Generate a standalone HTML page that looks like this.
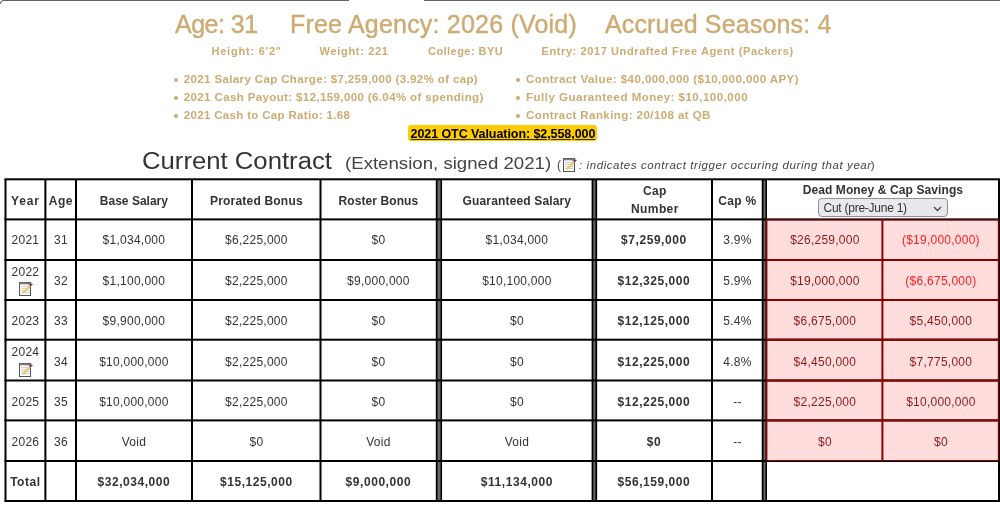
<!DOCTYPE html>
<html><head><meta charset="utf-8"><title>Contract</title>
<style>
html,body{margin:0;padding:0;background:#fff}
body{width:1000px;height:510px;overflow:hidden;position:relative;font-family:"Liberation Sans", Arial, sans-serif}
.t{position:absolute;white-space:nowrap;line-height:1}
.l{position:absolute}
.c{position:absolute;display:flex;align-items:center;justify-content:center;text-align:center;white-space:nowrap;line-height:1.2}
.sel{position:absolute;left:818px;top:198px;width:130px;height:19px;box-sizing:border-box;border:1px solid #8f8f9d;border-radius:4px;background:#e9e9ed;font-size:12px;color:#333;line-height:18px;padding-left:4.5px;letter-spacing:-0.25px;font-family:"Liberation Sans", Arial, sans-serif}
</style></head><body>
<div class="l" style="left:3px;top:0px;width:346px;height:1px;background:#666"></div>
<div class="l" style="left:424px;top:0px;width:576px;height:1px;background:#666"></div>
<div class="l" style="left:0;top:0;width:8px;height:8px;border-top:1px solid #666;border-left:1px solid #666;border-top-left-radius:4px;box-sizing:border-box;clip-path:inset(0 0 4px 0)"></div>
<div class="t" style="left:175px;top:12px;font-size:25px;font-weight:400;color:#ceab72;letter-spacing:-0.5px;-webkit-text-stroke:0.4px #ceab72">Age: 31</div>
<div class="t" style="left:290px;top:12px;font-size:25px;font-weight:400;color:#ceab72;letter-spacing:0.2px;-webkit-text-stroke:0.4px #ceab72">Free Agency: 2026 (Void)</div>
<div class="t" style="left:605px;top:12px;font-size:25px;font-weight:400;color:#ceab72;letter-spacing:0.15px;-webkit-text-stroke:0.4px #ceab72">Accrued Seasons: 4</div>
<div class="t" style="left:211.5px;top:46px;font-size:11px;font-weight:700;color:#ceab72;letter-spacing:0.78px">Height: 6'2"</div>
<div class="t" style="left:319.6px;top:46px;font-size:11px;font-weight:700;color:#ceab72;letter-spacing:0.68px">Weight: 221</div>
<div class="t" style="left:428px;top:46px;font-size:11px;font-weight:700;color:#ceab72;letter-spacing:0.45px">College: BYU</div>
<div class="t" style="left:541.5px;top:46px;font-size:11px;font-weight:700;color:#ceab72;letter-spacing:0.6px">Entry: 2017 Undrafted Free Agent (Packers)</div>
<div class="l" style="left:173.5px;top:78px;width:4px;height:4px;border-radius:50%;background:#ceab72"></div>
<div class="t" style="left:183.8px;top:74px;font-size:11.5px;font-weight:700;color:#ceab72;letter-spacing:0.37px">2021 Salary Cap Charge: $7,259,000 (3.92% of cap)</div>
<div class="l" style="left:173.5px;top:96px;width:4px;height:4px;border-radius:50%;background:#ceab72"></div>
<div class="t" style="left:183.8px;top:92px;font-size:11.5px;font-weight:700;color:#ceab72;letter-spacing:0.38px">2021 Cash Payout: $12,159,000 (6.04% of spending)</div>
<div class="l" style="left:173.5px;top:114px;width:4px;height:4px;border-radius:50%;background:#ceab72"></div>
<div class="t" style="left:183.8px;top:110px;font-size:11.5px;font-weight:700;color:#ceab72;letter-spacing:0.33px">2021 Cash to Cap Ratio: 1.68</div>
<div class="l" style="left:515.5px;top:78px;width:4px;height:4px;border-radius:50%;background:#ceab72"></div>
<div class="t" style="left:526px;top:74px;font-size:11.5px;font-weight:700;color:#ceab72;letter-spacing:0.45px">Contract Value: $40,000,000 ($10,000,000 APY)</div>
<div class="l" style="left:515.5px;top:96px;width:4px;height:4px;border-radius:50%;background:#ceab72"></div>
<div class="t" style="left:526px;top:92px;font-size:11.5px;font-weight:700;color:#ceab72;letter-spacing:0.5px">Fully Guaranteed Money: $10,100,000</div>
<div class="l" style="left:515.5px;top:114px;width:4px;height:4px;border-radius:50%;background:#ceab72"></div>
<div class="t" style="left:526px;top:110px;font-size:11.5px;font-weight:700;color:#ceab72;letter-spacing:0.43px">Contract Ranking: 20/108 at QB</div>
<div class="l" style="left:408px;top:125px;width:189px;height:16px;background:#ffcc00;border-radius:3px"></div>
<div class="t" style="left:410.5px;top:127.5px;font-size:12.5px;font-weight:700;color:#000;letter-spacing:-0.07px"><u style="text-decoration-color:#3a3000">2021 OTC Valuation: $2,558,000</u></div>
<div class="t" style="left:142px;top:150px;font-size:23px;font-weight:400;color:#333;transform:scaleX(1.117);transform-origin:0 0">Current Contract</div>
<div class="t" style="left:345.2px;top:155px;font-size:17px;font-weight:400;color:#444;transform:scaleX(1.096);transform-origin:0 0">(Extension, signed 2021)</div>
<div class="t" style="left:557px;top:159px;font-size:12px;font-weight:400;color:#444;">(</div>
<div class="l" style="left:563px;top:158px"><svg width="14" height="14" viewBox="0 0 14 14" style="display:block"><rect x="0.5" y="0.5" width="11" height="13" fill="#fbfbfb" stroke="#555" stroke-width="1"/><path d="M0.5 1.3H9.4L11.5 3.4" fill="none" stroke="#7a7a7a" stroke-width="1.8"/><path d="M2 4.5h8.5M2 6.5h8.5M2 8.5h8.5M2 10.5h8.5" stroke="#d4d4d4" stroke-width="1.2"/><path d="M3.8 11.2 L11.3 3.7" stroke="#f3c448" stroke-width="1.7"/><path d="M11 4 L13.3 1.7" stroke="#6a3a78" stroke-width="1.6"/></svg></div>
<div class="t" style="left:579px;top:159.5px;font-size:11.5px;font-weight:400;color:#444;"><i style="letter-spacing:0.58px">: indicates contract trigger occuring during that year</i><span style="margin-left:-1px">)</span></div>
<svg class="l" style="left:0;top:0" width="1000" height="510" viewBox="0 0 1000 510"><rect x="766" y="219.4" width="233" height="241.6" fill="#ffdddd"/><rect x="435" y="179.2" width="1" height="322.3" fill="#ccc"/><rect x="436" y="179.2" width="1" height="322.3" fill="#000"/><rect x="437" y="179.2" width="1" height="322.3" fill="#333"/><rect x="438" y="179.2" width="1" height="322.3" fill="#666"/><rect x="439" y="179.2" width="1" height="322.3" fill="#666"/><rect x="440" y="179.2" width="1" height="322.3" fill="#333"/><rect x="441" y="179.2" width="1" height="322.3" fill="#000"/><rect x="442" y="179.2" width="1" height="322.3" fill="#eee"/><rect x="591" y="179.2" width="1" height="322.3" fill="#999"/><rect x="592" y="179.2" width="1" height="322.3" fill="#000"/><rect x="593" y="179.2" width="1" height="322.3" fill="#444"/><rect x="594" y="179.2" width="1" height="322.3" fill="#666"/><rect x="595" y="179.2" width="1" height="322.3" fill="#2a2a2a"/><rect x="596" y="179.2" width="1" height="322.3" fill="#000"/><rect x="597" y="179.2" width="1" height="322.3" fill="#ddd"/><rect x="761" y="179.2" width="1" height="322.3" fill="#bbb"/><rect x="762" y="179.2" width="1" height="322.3" fill="#000"/><rect x="763" y="179.2" width="1" height="322.3" fill="#333"/><rect x="764" y="179.2" width="1" height="322.3" fill="#666"/><rect x="765" y="179.2" width="1" height="322.3" fill="#333"/><rect x="766" y="179.2" width="1" height="322.3" fill="#000"/><rect x="4.5" y="179.2" width="2.0" height="322.3" fill="#000"/><rect x="44.4" y="179.2" width="2.0" height="322.3" fill="#000"/><rect x="75.0" y="179.2" width="2.0" height="322.3" fill="#000"/><rect x="191.0" y="179.2" width="2.0" height="322.3" fill="#000"/><rect x="319.5" y="179.2" width="2.0" height="322.3" fill="#000"/><rect x="711.0" y="179.2" width="2.0" height="322.3" fill="#000"/><rect x="998" y="179.2" width="2" height="322.3" fill="#000"/><rect x="4.5" y="178.3" width="995.5" height="2.0" fill="#000"/><rect x="4.5" y="218.4" width="995.5" height="2.0" fill="#000"/><rect x="4.5" y="259.0" width="995.5" height="2.0" fill="#000"/><rect x="4.5" y="299.0" width="995.5" height="2.0" fill="#000"/><rect x="4.5" y="338.7" width="995.5" height="2.0" fill="#000"/><rect x="4.5" y="379.5" width="995.5" height="2.0" fill="#000"/><rect x="4.5" y="419.4" width="995.5" height="2.0" fill="#000"/><rect x="4.5" y="460.0" width="995.5" height="2.0" fill="#000"/><rect x="4.5" y="500.0" width="995.5" height="2.0" fill="#000"/><rect x="766" y="259.0" width="233" height="2.0" fill="#8b0000"/><rect x="766" y="299.0" width="233" height="2.0" fill="#8b0000"/><rect x="766" y="338.7" width="233" height="2.0" fill="#8b0000"/><rect x="766" y="379.5" width="233" height="2.0" fill="#8b0000"/><rect x="766" y="419.4" width="233" height="2.0" fill="#8b0000"/><rect x="766" y="219.3" width="233" height="1.1" fill="#8b0000"/><rect x="766" y="460.0" width="233" height="1.0" fill="#8b0000"/><rect x="766" y="219.3" width="1.4" height="241.7" fill="#8b0000"/><rect x="881.4" y="219.0" width="2.0" height="242.0" fill="#8b0000"/><rect x="997.8" y="219.0" width="1.2" height="242.0" fill="#8b0000"/></svg>
<div class="c" style="left:5.8px;top:181.5px;width:39.2px;height:39.0px;font-size:12px;font-weight:700;color:#333;letter-spacing:0.9px">Year</div>
<div class="c" style="left:45.8px;top:181.5px;width:30.200000000000003px;height:39.0px;font-size:12px;font-weight:700;color:#333;letter-spacing:0.6px">Age</div>
<div class="c" style="left:76.8px;top:181.5px;width:114.2px;height:39.0px;font-size:12px;font-weight:700;color:#333;">Base Salary</div>
<div class="c" style="left:192.8px;top:181.5px;width:127.19999999999999px;height:39.0px;font-size:12px;font-weight:700;color:#333;letter-spacing:0.2px">Prorated Bonus</div>
<div class="c" style="left:320.8px;top:181.5px;width:115.19999999999999px;height:39.0px;font-size:12px;font-weight:700;color:#333;letter-spacing:0.1px">Roster Bonus</div>
<div class="c" style="left:441.8px;top:181.5px;width:150.2px;height:39.0px;font-size:12px;font-weight:700;color:#333;letter-spacing:0.15px">Guaranteed Salary</div>
<div class="c" style="left:712.8px;top:181.5px;width:49.200000000000045px;height:39.0px;font-size:12px;font-weight:700;color:#333;letter-spacing:0.3px">Cap %</div>
<div class="c" style="left:597.8px;top:181px;width:114.20000000000005px;height:39px;font-size:12px;font-weight:700;color:#333;line-height:17.6px;letter-spacing:0.4px">Cap<br>Number</div>
<div class="c" style="left:767.8px;top:180px;width:230.20000000000005px;height:17px;font-size:12px;font-weight:700;color:#333;align-items:flex-end;letter-spacing:0.1px">Dead Money &amp; Cap Savings</div>
<div class="sel">Cut (pre-June 1)<svg width="9" height="6" viewBox="0 0 9 6" style="position:absolute;right:5px;top:7px"><path d="M1 1 L4.5 4.5 L8 1" fill="none" stroke="#444" stroke-width="1.3"/></svg></div>
<div class="c" style="left:5.8px;top:220.1px;width:39.2px;height:40.599999999999994px;font-size:12px;font-weight:400;color:#333;letter-spacing:0.25px">2021</div>
<div class="c" style="left:45.8px;top:220.1px;width:30.200000000000003px;height:40.599999999999994px;font-size:12px;font-weight:400;color:#333;letter-spacing:0.25px">31</div>
<div class="c" style="left:76.8px;top:220.1px;width:114.2px;height:40.599999999999994px;font-size:12px;font-weight:400;color:#333;letter-spacing:0.25px">$1,034,000</div>
<div class="c" style="left:192.8px;top:220.1px;width:127.19999999999999px;height:40.599999999999994px;font-size:12px;font-weight:400;color:#333;letter-spacing:0.25px">$6,225,000</div>
<div class="c" style="left:320.8px;top:220.1px;width:115.19999999999999px;height:40.599999999999994px;font-size:12px;font-weight:400;color:#333;letter-spacing:0.25px">$0</div>
<div class="c" style="left:441.8px;top:220.1px;width:150.2px;height:40.599999999999994px;font-size:12px;font-weight:400;color:#333;letter-spacing:0.25px">$1,034,000</div>
<div class="c" style="left:596.8px;top:220.1px;width:114.20000000000005px;height:40.599999999999994px;font-size:12px;font-weight:700;color:#333;letter-spacing:0.55px">$7,259,000</div>
<div class="c" style="left:712.8px;top:220.1px;width:49.200000000000045px;height:40.599999999999994px;font-size:12px;font-weight:400;color:#333;letter-spacing:0.25px">3.9%</div>
<div class="c" style="left:767.8px;top:220.1px;width:114.20000000000005px;height:40.599999999999994px;font-size:12px;font-weight:400;color:#8b1a1a;letter-spacing:0.25px">$26,259,000</div>
<div class="c" style="left:883.8px;top:220.1px;width:114.20000000000005px;height:40.599999999999994px;font-size:12px;font-weight:400;color:#ff2020;letter-spacing:0.25px">($19,000,000)</div>
<div class="c" style="left:5.8px;top:260.6px;width:39.2px;height:40.0px;font-size:12px;font-weight:400;color:#333;letter-spacing:0.25px"><div style="text-align:center">2022<div style="width:14px;margin:3px auto 0;position:relative;left:0.5px"><svg width="14" height="14" viewBox="0 0 14 14" style="display:block"><rect x="0.5" y="0.5" width="11" height="13" fill="#fbfbfb" stroke="#555" stroke-width="1"/><path d="M0.5 1.3H9.4L11.5 3.4" fill="none" stroke="#7a7a7a" stroke-width="1.8"/><path d="M2 4.5h8.5M2 6.5h8.5M2 8.5h8.5M2 10.5h8.5" stroke="#d4d4d4" stroke-width="1.2"/><path d="M3.8 11.2 L11.3 3.7" stroke="#f3c448" stroke-width="1.7"/><path d="M11 4 L13.3 1.7" stroke="#6a3a78" stroke-width="1.6"/></svg></div></div></div>
<div class="c" style="left:45.8px;top:261.6px;width:30.200000000000003px;height:40.0px;font-size:12px;font-weight:400;color:#333;letter-spacing:0.25px">32</div>
<div class="c" style="left:76.8px;top:261.6px;width:114.2px;height:40.0px;font-size:12px;font-weight:400;color:#333;letter-spacing:0.25px">$1,100,000</div>
<div class="c" style="left:192.8px;top:261.6px;width:127.19999999999999px;height:40.0px;font-size:12px;font-weight:400;color:#333;letter-spacing:0.25px">$2,225,000</div>
<div class="c" style="left:320.8px;top:261.6px;width:115.19999999999999px;height:40.0px;font-size:12px;font-weight:400;color:#333;letter-spacing:0.25px">$9,000,000</div>
<div class="c" style="left:441.8px;top:261.6px;width:150.2px;height:40.0px;font-size:12px;font-weight:400;color:#333;letter-spacing:0.25px">$10,100,000</div>
<div class="c" style="left:596.8px;top:261.6px;width:114.20000000000005px;height:40.0px;font-size:12px;font-weight:700;color:#333;letter-spacing:0.55px">$12,325,000</div>
<div class="c" style="left:712.8px;top:261.6px;width:49.200000000000045px;height:40.0px;font-size:12px;font-weight:400;color:#333;letter-spacing:0.25px">5.9%</div>
<div class="c" style="left:767.8px;top:261.6px;width:114.20000000000005px;height:40.0px;font-size:12px;font-weight:400;color:#8b1a1a;letter-spacing:0.25px">$19,000,000</div>
<div class="c" style="left:883.8px;top:261.6px;width:114.20000000000005px;height:40.0px;font-size:12px;font-weight:400;color:#ff2020;letter-spacing:0.25px">($6,675,000)</div>
<div class="c" style="left:5.8px;top:301.4px;width:39.2px;height:39.69999999999999px;font-size:12px;font-weight:400;color:#333;letter-spacing:0.25px">2023</div>
<div class="c" style="left:45.8px;top:301.4px;width:30.200000000000003px;height:39.69999999999999px;font-size:12px;font-weight:400;color:#333;letter-spacing:0.25px">33</div>
<div class="c" style="left:76.8px;top:301.4px;width:114.2px;height:39.69999999999999px;font-size:12px;font-weight:400;color:#333;letter-spacing:0.25px">$9,900,000</div>
<div class="c" style="left:192.8px;top:301.4px;width:127.19999999999999px;height:39.69999999999999px;font-size:12px;font-weight:400;color:#333;letter-spacing:0.25px">$2,225,000</div>
<div class="c" style="left:320.8px;top:301.4px;width:115.19999999999999px;height:39.69999999999999px;font-size:12px;font-weight:400;color:#333;letter-spacing:0.25px">$0</div>
<div class="c" style="left:441.8px;top:301.4px;width:150.2px;height:39.69999999999999px;font-size:12px;font-weight:400;color:#333;letter-spacing:0.25px">$0</div>
<div class="c" style="left:596.8px;top:301.4px;width:114.20000000000005px;height:39.69999999999999px;font-size:12px;font-weight:700;color:#333;letter-spacing:0.55px">$12,125,000</div>
<div class="c" style="left:712.8px;top:301.4px;width:49.200000000000045px;height:39.69999999999999px;font-size:12px;font-weight:400;color:#333;letter-spacing:0.25px">5.4%</div>
<div class="c" style="left:767.8px;top:301.4px;width:114.20000000000005px;height:39.69999999999999px;font-size:12px;font-weight:400;color:#8b1a1a;letter-spacing:0.25px">$6,675,000</div>
<div class="c" style="left:883.8px;top:301.4px;width:114.20000000000005px;height:39.69999999999999px;font-size:12px;font-weight:400;color:#8b1a1a;letter-spacing:0.25px">$5,450,000</div>
<div class="c" style="left:5.8px;top:340.59999999999997px;width:39.2px;height:40.80000000000001px;font-size:12px;font-weight:400;color:#333;letter-spacing:0.25px"><div style="text-align:center">2024<div style="width:14px;margin:3px auto 0;position:relative;left:0.5px"><svg width="14" height="14" viewBox="0 0 14 14" style="display:block"><rect x="0.5" y="0.5" width="11" height="13" fill="#fbfbfb" stroke="#555" stroke-width="1"/><path d="M0.5 1.3H9.4L11.5 3.4" fill="none" stroke="#7a7a7a" stroke-width="1.8"/><path d="M2 4.5h8.5M2 6.5h8.5M2 8.5h8.5M2 10.5h8.5" stroke="#d4d4d4" stroke-width="1.2"/><path d="M3.8 11.2 L11.3 3.7" stroke="#f3c448" stroke-width="1.7"/><path d="M11 4 L13.3 1.7" stroke="#6a3a78" stroke-width="1.6"/></svg></div></div></div>
<div class="c" style="left:45.8px;top:341.59999999999997px;width:30.200000000000003px;height:40.80000000000001px;font-size:12px;font-weight:400;color:#333;letter-spacing:0.25px">34</div>
<div class="c" style="left:76.8px;top:341.59999999999997px;width:114.2px;height:40.80000000000001px;font-size:12px;font-weight:400;color:#333;letter-spacing:0.25px">$10,000,000</div>
<div class="c" style="left:192.8px;top:341.59999999999997px;width:127.19999999999999px;height:40.80000000000001px;font-size:12px;font-weight:400;color:#333;letter-spacing:0.25px">$2,225,000</div>
<div class="c" style="left:320.8px;top:341.59999999999997px;width:115.19999999999999px;height:40.80000000000001px;font-size:12px;font-weight:400;color:#333;letter-spacing:0.25px">$0</div>
<div class="c" style="left:441.8px;top:341.59999999999997px;width:150.2px;height:40.80000000000001px;font-size:12px;font-weight:400;color:#333;letter-spacing:0.25px">$0</div>
<div class="c" style="left:596.8px;top:341.59999999999997px;width:114.20000000000005px;height:40.80000000000001px;font-size:12px;font-weight:700;color:#333;letter-spacing:0.55px">$12,225,000</div>
<div class="c" style="left:712.8px;top:341.59999999999997px;width:49.200000000000045px;height:40.80000000000001px;font-size:12px;font-weight:400;color:#333;letter-spacing:0.25px">4.8%</div>
<div class="c" style="left:767.8px;top:341.59999999999997px;width:114.20000000000005px;height:40.80000000000001px;font-size:12px;font-weight:400;color:#8b1a1a;letter-spacing:0.25px">$4,450,000</div>
<div class="c" style="left:883.8px;top:341.59999999999997px;width:114.20000000000005px;height:40.80000000000001px;font-size:12px;font-weight:400;color:#8b1a1a;letter-spacing:0.25px">$7,775,000</div>
<div class="c" style="left:5.8px;top:381.9px;width:39.2px;height:39.89999999999998px;font-size:12px;font-weight:400;color:#333;letter-spacing:0.25px">2025</div>
<div class="c" style="left:45.8px;top:381.9px;width:30.200000000000003px;height:39.89999999999998px;font-size:12px;font-weight:400;color:#333;letter-spacing:0.25px">35</div>
<div class="c" style="left:76.8px;top:381.9px;width:114.2px;height:39.89999999999998px;font-size:12px;font-weight:400;color:#333;letter-spacing:0.25px">$10,000,000</div>
<div class="c" style="left:192.8px;top:381.9px;width:127.19999999999999px;height:39.89999999999998px;font-size:12px;font-weight:400;color:#333;letter-spacing:0.25px">$2,225,000</div>
<div class="c" style="left:320.8px;top:381.9px;width:115.19999999999999px;height:39.89999999999998px;font-size:12px;font-weight:400;color:#333;letter-spacing:0.25px">$0</div>
<div class="c" style="left:441.8px;top:381.9px;width:150.2px;height:39.89999999999998px;font-size:12px;font-weight:400;color:#333;letter-spacing:0.25px">$0</div>
<div class="c" style="left:596.8px;top:381.9px;width:114.20000000000005px;height:39.89999999999998px;font-size:12px;font-weight:700;color:#333;letter-spacing:0.55px">$12,225,000</div>
<div class="c" style="left:712.8px;top:381.9px;width:49.200000000000045px;height:39.89999999999998px;font-size:12px;font-weight:400;color:#333;letter-spacing:0.25px">--</div>
<div class="c" style="left:767.8px;top:381.9px;width:114.20000000000005px;height:39.89999999999998px;font-size:12px;font-weight:400;color:#8b1a1a;letter-spacing:0.25px">$2,225,000</div>
<div class="c" style="left:883.8px;top:381.9px;width:114.20000000000005px;height:39.89999999999998px;font-size:12px;font-weight:400;color:#8b1a1a;letter-spacing:0.25px">$10,000,000</div>
<div class="c" style="left:5.8px;top:421.9px;width:39.2px;height:40.60000000000002px;font-size:12px;font-weight:400;color:#333;letter-spacing:0.25px">2026</div>
<div class="c" style="left:45.8px;top:421.9px;width:30.200000000000003px;height:40.60000000000002px;font-size:12px;font-weight:400;color:#333;letter-spacing:0.25px">36</div>
<div class="c" style="left:76.8px;top:421.9px;width:114.2px;height:40.60000000000002px;font-size:12px;font-weight:400;color:#333;letter-spacing:0.25px">Void</div>
<div class="c" style="left:192.8px;top:421.9px;width:127.19999999999999px;height:40.60000000000002px;font-size:12px;font-weight:400;color:#333;letter-spacing:0.25px">$0</div>
<div class="c" style="left:320.8px;top:421.9px;width:115.19999999999999px;height:40.60000000000002px;font-size:12px;font-weight:400;color:#333;letter-spacing:0.25px">Void</div>
<div class="c" style="left:441.8px;top:421.9px;width:150.2px;height:40.60000000000002px;font-size:12px;font-weight:400;color:#333;letter-spacing:0.25px">Void</div>
<div class="c" style="left:596.8px;top:421.9px;width:114.20000000000005px;height:40.60000000000002px;font-size:12px;font-weight:700;color:#333;letter-spacing:0.55px">$0</div>
<div class="c" style="left:712.8px;top:421.9px;width:49.200000000000045px;height:40.60000000000002px;font-size:12px;font-weight:400;color:#333;letter-spacing:0.25px">--</div>
<div class="c" style="left:767.8px;top:421.9px;width:114.20000000000005px;height:40.60000000000002px;font-size:12px;font-weight:400;color:#8b1a1a;letter-spacing:0.25px">$0</div>
<div class="c" style="left:883.8px;top:421.9px;width:114.20000000000005px;height:40.60000000000002px;font-size:12px;font-weight:400;color:#8b1a1a;letter-spacing:0.25px">$0</div>
<div class="c" style="left:5.8px;top:462.4px;width:39.2px;height:40.0px;font-size:12px;font-weight:700;color:#333;letter-spacing:0.55px">Total</div>
<div class="c" style="left:45.8px;top:462.4px;width:30.200000000000003px;height:40.0px;font-size:12px;font-weight:700;color:#333;letter-spacing:0.55px"></div>
<div class="c" style="left:76.8px;top:462.4px;width:114.2px;height:40.0px;font-size:12px;font-weight:700;color:#333;letter-spacing:0.55px">$32,034,000</div>
<div class="c" style="left:192.8px;top:462.4px;width:127.19999999999999px;height:40.0px;font-size:12px;font-weight:700;color:#333;letter-spacing:0.55px">$15,125,000</div>
<div class="c" style="left:320.8px;top:462.4px;width:115.19999999999999px;height:40.0px;font-size:12px;font-weight:700;color:#333;letter-spacing:0.55px">$9,000,000</div>
<div class="c" style="left:441.8px;top:462.4px;width:150.2px;height:40.0px;font-size:12px;font-weight:700;color:#333;letter-spacing:0.55px">$11,134,000</div>
<div class="c" style="left:596.8px;top:462.4px;width:114.20000000000005px;height:40.0px;font-size:12px;font-weight:700;color:#333;letter-spacing:0.55px">$56,159,000</div>
<div class="c" style="left:712.8px;top:462.4px;width:49.200000000000045px;height:40.0px;font-size:12px;font-weight:700;color:#333;letter-spacing:0.55px"></div>
</body></html>
